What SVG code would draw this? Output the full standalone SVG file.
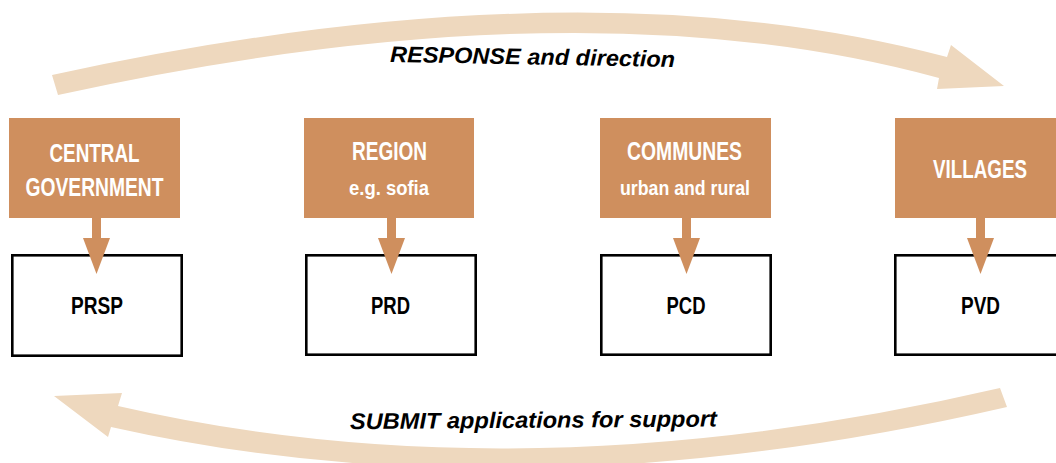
<svg xmlns="http://www.w3.org/2000/svg" width="1056" height="463" viewBox="0 0 1056 463">
  <style>
    .org { fill: #CF8F5E; }
    .wbox { fill: #FFFFFF; stroke: #000000; stroke-width: 2.6; }
    .big { fill: #EED8BE; }
    .hd { font-family: "Liberation Sans Narrow", "Liberation Sans", Arial, sans-serif; font-weight: bold; font-size: 25px; fill: #FFFFFF; text-anchor: middle; }
    .sub { font-family: "Liberation Sans Narrow", "Liberation Sans", Arial, sans-serif; font-weight: bold; font-size: 20.5px; fill: #FFFFFF; text-anchor: middle; }
    .plan { font-family: "Liberation Sans Narrow", "Liberation Sans", Arial, sans-serif; font-weight: bold; font-size: 24.5px; fill: #000000; text-anchor: middle; }
    .lbl { font-family: "Liberation Sans", Arial, sans-serif; font-weight: bold; font-style: italic; font-size: 22.5px; fill: #000000; }
  </style>
  <rect width="1056" height="463" fill="#FFFFFF"/>

  <g id="node-central">
    <rect class="org" x="9" y="118" width="171" height="100"/>
    <text class="hd" x="94.5" y="162" textLength="90" lengthAdjust="spacingAndGlyphs">CENTRAL</text>
    <text class="hd" x="94.5" y="196" textLength="138" lengthAdjust="spacingAndGlyphs">GOVERNMENT</text>
  </g>
  <g id="node-region">
    <rect class="org" x="304" y="118" width="170" height="100"/>
    <text class="hd" x="389.5" y="160" textLength="75" lengthAdjust="spacingAndGlyphs">REGION</text>
    <text class="sub" x="389" y="195" textLength="80" lengthAdjust="spacingAndGlyphs">e.g. sofia</text>
  </g>
  <g id="node-communes">
    <rect class="org" x="600" y="118" width="171" height="100"/>
    <text class="hd" x="684.5" y="160" textLength="115" lengthAdjust="spacingAndGlyphs">COMMUNES</text>
    <text class="sub" x="685" y="195" textLength="130" lengthAdjust="spacingAndGlyphs">urban and rural</text>
  </g>
  <g id="node-villages">
    <rect class="org" x="895" y="118" width="175" height="100"/>
    <text class="hd" x="980" y="178" textLength="94" lengthAdjust="spacingAndGlyphs">VILLAGES</text>
  </g>

  <g id="node-prsp">
    <rect class="wbox" x="12.3" y="255.3" width="169.4" height="100.4"/>
    <text class="plan" x="97" y="314" textLength="52" lengthAdjust="spacingAndGlyphs">PRSP</text>
  </g>
  <g id="node-prd">
    <rect class="wbox" x="306.3" y="255.3" width="169.4" height="99.4"/>
    <text class="plan" x="390.5" y="314" textLength="39" lengthAdjust="spacingAndGlyphs">PRD</text>
  </g>
  <g id="node-pcd">
    <rect class="wbox" x="601.3" y="255.3" width="169.4" height="99.4"/>
    <text class="plan" x="686" y="314" textLength="39" lengthAdjust="spacingAndGlyphs">PCD</text>
  </g>
  <g id="node-pvd">
    <rect class="wbox" x="895.3" y="255.3" width="175" height="99.4"/>
    <text class="plan" x="980.5" y="314" textLength="39" lengthAdjust="spacingAndGlyphs">PVD</text>
  </g>

  <g id="connectors">
    <path class="org" d="M92,218 H101 V238 H110 L96.5,274 L83,238 H92 Z"/>
    <path class="org" d="M387,218 H396 V238 H405 L391.5,274 L378,238 H387 Z"/>
    <path class="org" d="M682,218 H691 V238 H700 L686.5,274 L673,238 H682 Z"/>
    <path class="org" d="M976,218 H985 V238 H994 L980.5,274 L967,238 H976 Z"/>

    <path class="big" d="M52,75 Q580,-40 947,57 L951,45 L1004,86 L937,89 L939,78 Q580,-20 58,95 Z"/>
    <path class="big" d="M1000,388 Q521,499 118,406 L122,393 L54,396 L108,437 L111,427 Q521,519 1007,407 Z"/>
  </g>

  <g id="labels">
    <text class="lbl" x="390" y="62" transform="rotate(1 390 62)" textLength="285" lengthAdjust="spacingAndGlyphs">RESPONSE and direction</text>
    <text class="lbl" x="350" y="429" transform="rotate(-0.4 350 429)" textLength="367" lengthAdjust="spacingAndGlyphs">SUBMIT applications for support</text>
  </g>
</svg>
